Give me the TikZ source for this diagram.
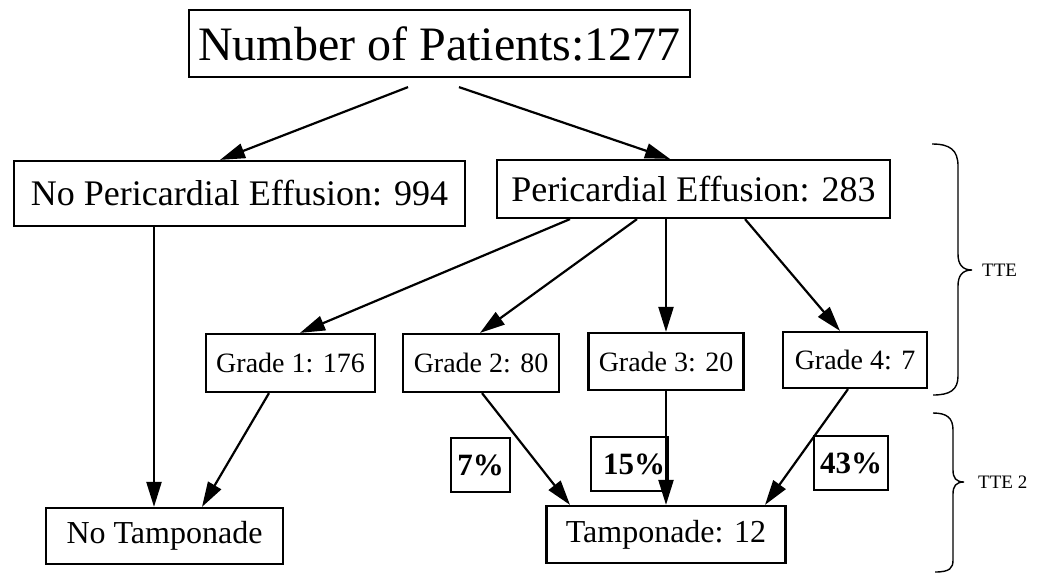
\documentclass[tikz,border=0pt]{standalone}
\usepackage{fontspec}
\setmainfont{Liberation Serif}
\usetikzlibrary{arrows.meta}
\begin{document}
\begin{tikzpicture}[x=1pt,y=-1pt,
  box/.style={draw, line width=2.2pt, inner sep=0pt, anchor=center},
  arr/.style={line width=2.2pt, -{Triangle[length=25pt,width=15pt]}},
  brace/.style={line width=1.4pt},
  fbig/.style={font=\fontsize{48}{50}\selectfont},
  fmid/.style={font=\fontsize{36}{38}\selectfont},
  flow/.style={font=\fontsize{32}{34}\selectfont},
  fgr/.style={font=\fontsize{28}{30}\selectfont},
  fpc/.style={font=\fontsize{31}{33}\selectfont\bfseries},
  flab/.style={font=\fontsize{19}{21}\selectfont, anchor=west, inner sep=0pt}]
\useasboundingbox (0,0) rectangle (1040,573);
\node[box, fbig, minimum width=501pt, minimum height=67pt] (top) at (439.5,43.5) {Number of Patients:1277};
\node[box, fmid, minimum width=451pt, minimum height=65pt] (npe) at (239.5,193.5) {No Pericardial Effusion: 994};
\node[box, fmid, minimum width=393pt, minimum height=58pt] (pe) at (693.5,189) {Pericardial Effusion: 283};
\node[box, fgr, minimum width=169pt, minimum height=58pt] (g1) at (290.5,363) {Grade 1: 176};
\node[box, fgr, minimum width=156pt, minimum height=58pt] (g2) at (481,363) {Grade 2: 80};
\node[box, fgr, minimum width=155pt, minimum height=57pt] (g3) at (666,361.5) {Grade 3: 20};
\node[box, fgr, minimum width=144pt, minimum height=56pt] (g4) at (855,360) {Grade 4: 7};
\node[box, flow, minimum width=237pt, minimum height=56pt] (nt) at (164.5,536) {No Tamponade};
\node[box, flow, minimum width=239pt, minimum height=57pt] (t) at (666,534.5) {Tamponade: 12};
\node[box, fpc, minimum width=59pt, minimum height=54pt] (p7) at (480.5,465) {7\%};
\node[box, fpc, minimum width=77pt, minimum height=54pt] (p15) at (629.5,464) {\hspace*{9pt}15\%};
\node[box, fpc, minimum width=74pt, minimum height=54pt] (p43) at (851,463) {43\%};
% connectors
\draw[arr] ([xshift=-31.5pt,yshift=-9pt]top.south) -- ([xshift=-19.5pt]npe.north);
\draw[arr] ([xshift=19.5pt,yshift=-9pt]top.south) -- ([xshift=-23.5pt]pe.north);
\draw[arr] ([xshift=-123.5pt]pe.south) -- ([xshift=9.5pt]g1.north);
\draw[arr] ([xshift=-56.5pt]pe.south) -- ([xshift=-1pt]g2.north);
\draw[arr] ([xshift=-27.5pt]pe.south) -- (g3.north);
\draw[arr] ([xshift=51.5pt]pe.south) -- ([xshift=-15pt]g4.north);
\draw[arr] ([xshift=-85.5pt]npe.south) -- ([xshift=-10.5pt]nt.north);
\draw[arr] ([xshift=-21.5pt]g1.south) -- ([xshift=37.5pt]nt.north);
\draw[arr] ([xshift=1pt]g2.south) -- ([xshift=-96pt]t.north);
\draw[arr] (g3.south) -- (t.north);
\draw[arr] ([xshift=-7pt]g4.south) -- ([xshift=99pt]t.north);
% braces
\draw[brace] (932,144) .. controls (950,144) and (958,150) .. (958,166) -- (958,254)
  .. controls (958,264) and (962,270) .. (972,270)
  .. controls (962,270) and (958,276) .. (958,286) -- (958,376)
  .. controls (958,390) and (950,395) .. (933,395);
\draw[brace] (933,413) .. controls (947,413) and (953,418) .. (953,430) -- (953,470)
  .. controls (953,478) and (956,482) .. (964,482)
  .. controls (956,482) and (953,486) .. (953,494) -- (953,560)
  .. controls (953,568) and (950,572) .. (935,572);
\node[flab] (tte) at (982,270) {TTE};
\node[flab] (tte2) at (978,482) {TTE 2};
\end{tikzpicture}
\end{document}
